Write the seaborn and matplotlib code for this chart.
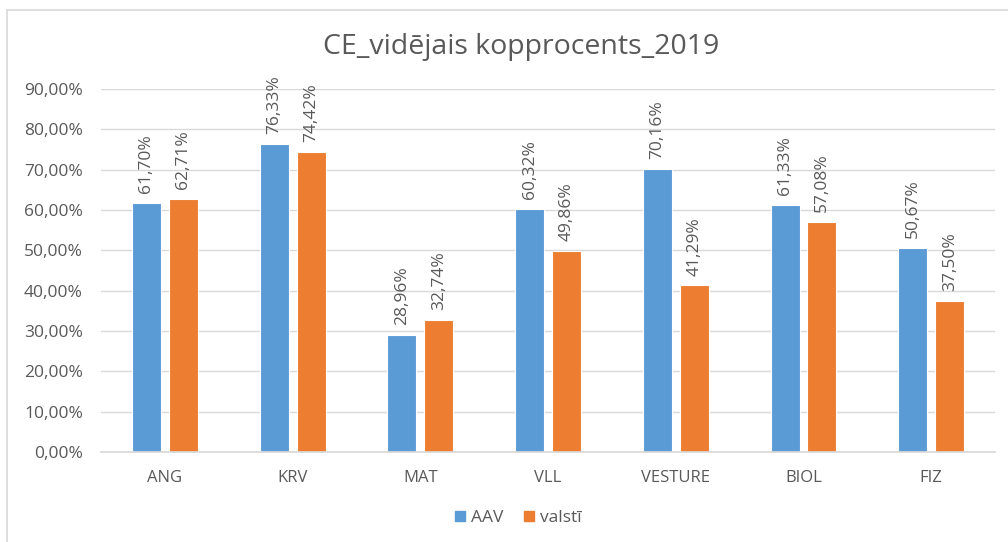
import matplotlib
matplotlib.use("Agg")
import matplotlib.pyplot as plt
import seaborn as sns
import pandas as pd
from matplotlib.lines import Line2D

categories = ["ANG", "KRV", "MAT", "VLL", "VESTURE", "BIOL", "FIZ"]
aav = [61.70, 76.33, 28.96, 60.32, 70.16, 61.33, 50.67]
valsti = [62.71, 74.42, 32.74, 49.86, 41.29, 57.08, 37.50]
series_names = ["AAV", "valstī"]
title = "CE_vidējais kopprocents_2019"

df = pd.DataFrame({
    "cat": categories * 2,
    "val": aav + valsti,
    "series": [series_names[0]] * len(categories) + [series_names[1]] * len(categories),
})

sns.set_theme(style="white")
plt.rcParams["font.family"] = ["Open Sans", "DejaVu Sans"]
txt = "#595959"
grid = "#D9D9D9"
colors = ["#5B9BD5", "#ED7D31"]

fig = plt.figure(figsize=(10.08, 5.42), dpi=100)
ax = fig.add_axes([0.1002, 0.166, 0.887, 0.670])
sns.barplot(data=df, x="cat", y="val", hue="series", ax=ax,
            palette=colors, saturation=1, width=0.578, gap=0.216,
            edgecolor="white", linewidth=0.8, legend=False, errorbar=None)

ax.set_ylim(0, 90)
ax.set_xlim(-0.5, len(categories) - 0.5)
yt = list(range(0, 91, 10))
ax.set_yticks(yt)
ax.set_yticklabels([f"{v:.2f}%".replace(".", ",") for v in yt], color=txt, fontsize=12.5)
ax.tick_params(axis="x", colors=txt, labelsize=12, pad=13, length=0)
ax.tick_params(axis="y", length=0, pad=13)
ax.set_xlabel("")
ax.set_ylabel("")
ax.yaxis.grid(True, color=grid, linewidth=1)
ax.set_axisbelow(True)
for s in ["top", "right", "left"]:
    ax.spines[s].set_visible(False)
ax.spines["bottom"].set_color(grid)

for cont, vals in zip(ax.containers, [aav, valsti]):
    ax.bar_label(cont, labels=[f"{v:.2f}%".replace(".", ",") for v in vals],
                 rotation=90, padding=7, color=txt, fontsize=12.5)

fig.text(0.517, 0.913, title, ha="center", va="center", color=txt, fontsize=20.5)

handles = [Line2D([], [], marker="s", linestyle="", markersize=7.5, color=c)
           for c in colors]
fig.legend(handles, series_names, loc="center", bbox_to_anchor=(0.513, 0.044),
           ncol=2, frameon=False, fontsize=12.5, labelcolor=txt,
           handletextpad=0.2, columnspacing=1.0, handlelength=0.9)

fig.add_artist(Line2D([7 / 1008, 7 / 1008], [0, 1 - 10 / 542], transform=fig.transFigure,
                      color=grid, linewidth=1.2))
fig.add_artist(Line2D([7 / 1008, 1], [1 - 10 / 542, 1 - 10 / 542], transform=fig.transFigure,
                      color=grid, linewidth=1.2))

fig.savefig("out.png", dpi=100)
